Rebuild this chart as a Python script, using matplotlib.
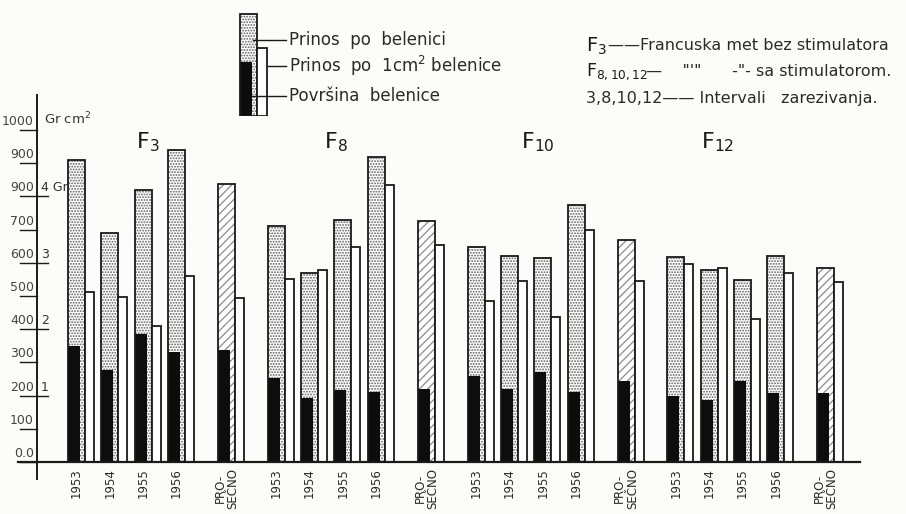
import matplotlib.pyplot as plt
from matplotlib.lines import Line2D

plt.rcParams['font.family'] = ['DejaVu Sans']
plt.rcParams['hatch.linewidth'] = 0.9

# data (0-1000 scale)
groups = ['3', '8', '10', '12']
cat_labels = ['1953', '1954', '1955', '1956', 'PRO-\nSEČNO']
# Prinos po belenici (full stippled bar)
prinos = [[909, 690, 819, 940, 837],
          [712, 569, 730, 918, 727],
          [647, 620, 614, 774, 668],
          [617, 577, 547, 620, 585]]
# Površina belenice (dark part)
povrsina = [[349, 277, 385, 332, 337],
            [252, 192, 218, 210, 220],
            [258, 220, 270, 212, 244],
            [198, 188, 244, 208, 208]]
# Prinos po 1cm2 belenice (white bar)
prinos_cm2 = [[513, 496, 410, 560, 493],
              [551, 579, 648, 834, 654],
              [486, 546, 436, 700, 544],
              [597, 585, 432, 570, 542]]
offsets = [0, 1, 2, 3, 4.5]

yticks = [0, 100, 200, 300, 400, 500, 600, 700, 800, 900, 1000]
ytick_labels = ['0.0', '100', '200', '300', '400', '500', '600', '700', '900', '900', '1000']
gr_ticks = [200, 400, 600, 800]
gr_labels = ['1', '2', '3', '4 Gr']

W, H = 906, 514
ink = '#1a1a1a'
txt = '#2a2a2a'


def fx(x):
    return x / W


def fy(y):
    return 1 - y / H


fig = plt.figure(figsize=(W / 100, H / 100), dpi=100)
fig.patch.set_facecolor('#fcfcfa')
ax = fig.add_axes([fx(18), fy(462), (860 - 18) / W, (462 - 130) / H])
ax.set_xlim(-1.5, 23.78)
ax.set_ylim(0, 1000)
ax.axis('off')

bw, dw, ww = 0.51, 0.36, 0.27
for g in range(len(groups)):
    for i, off in enumerate(offsets):
        p = g * 6 + off
        avg = i == 4
        # stipple / hatch fill
        ax.bar(p, prinos[g][i], width=bw, align='edge', color='white',
               edgecolor='#5e5e5e' if not avg else '#8a8a8a',
               hatch='////' if avg else '......', linewidth=0)
        ax.bar(p, povrsina[g][i], width=dw, align='edge', color='#0d0d0d', linewidth=0)
        ax.bar(p, prinos[g][i], width=bw, align='edge', fill=False,
               edgecolor=ink, linewidth=1.3)
        ax.bar(p + bw, prinos_cm2[g][i], width=ww, align='edge', color='white',
               edgecolor=ink, linewidth=1.3)
        ax.text(p + bw / 2, -18, cat_labels[i], rotation=90, ha='center', va='top',
                fontsize=8.5, color=txt, linespacing=0.95)

# group titles
title_x = [2.05, 7.7, 13.6, 19.0]
for g, name in enumerate(groups):
    ax.text(title_x[g], 945, r'$\mathregular{F_{%s}}$' % name, fontsize=16,
            color=ink, ha='left', va='baseline')

# axes drawn like the original
ax.plot([-1.5, 23.78], [0, 0], color=ink, lw=1.6, clip_on=False)
ax_x = -0.93
ax.plot([ax_x, ax_x], [-50, 1105], color=ink, lw=1.4, clip_on=False)
for v, lab in zip(yticks, ytick_labels):
    ax.plot([-1.45, ax_x], [v, v], color=ink, lw=1.0, clip_on=False)
    ax.text(-1.02, v + 6, lab, ha='right', va='bottom', fontsize=9, color='#444444')
for v, lab in zip(gr_ticks, gr_labels):
    ax.plot([ax_x, -0.6], [v, v], color=ink, lw=1.0, clip_on=False)
    ax.text(-0.82, v + 6, lab, ha='left', va='bottom', fontsize=9, color='#333333')
ax.text(-0.72, 1008, 'Gr cm$^2$', ha='left', va='bottom', fontsize=9.5, color='#333333')

# legend sample (upper left)
lax = fig.add_axes([fx(238), fy(116), 32 / W, (116 - 12) / H])
lax.set_xlim(0, 32)
lax.set_ylim(0, 104)
lax.axis('off')
lax.bar(2, 102, width=17, align='edge', color='white', edgecolor='#5e5e5e',
        hatch='......', linewidth=0)
lax.bar(2, 54, width=12, align='edge', color='#0d0d0d', linewidth=0)
lax.bar(2, 102, width=17, align='edge', fill=False, edgecolor=ink, linewidth=1.3)
lax.bar(19, 68, width=10, align='edge', color='white', edgecolor=ink, linewidth=1.3)

leg_items = [(40, 253, 'Prinos  po  belenici'),
             (66, 268, 'Prinos  po  1cm$^2$ belenice'),
             (96, 250, 'Površina  belenice')]
for y, x0, lab in leg_items:
    fig.add_artist(Line2D([fx(x0), fx(286)], [fy(y), fy(y)], color=ink, lw=1.0))
    fig.text(fx(289), fy(y), lab, ha='left', va='center', fontsize=12, color=txt)

# explanation block (upper right)
fig.text(fx(586), fy(46), r'$\mathregular{F_3}$', ha='left', va='center',
         fontsize=14, color=ink)
fig.text(fx(608), fy(46), '——Francuska met bez stimulatora', ha='left',
         va='center', fontsize=11.5, color=txt)
fig.text(fx(586), fy(72), r'$\mathregular{F_{8,10,12}}$', ha='left', va='center',
         fontsize=12.5, color=ink)
fig.text(fx(646), fy(72), '—    "\'"      -"- sa stimulatorom.', ha='left',
         va='center', fontsize=11.5, color=txt)
fig.text(fx(586), fy(98), '3,8,10,12—— Intervali   zarezivanja.', ha='left',
         va='center', fontsize=11.5, color=txt)

fig.savefig('out.png', dpi=100, facecolor=fig.get_facecolor())
